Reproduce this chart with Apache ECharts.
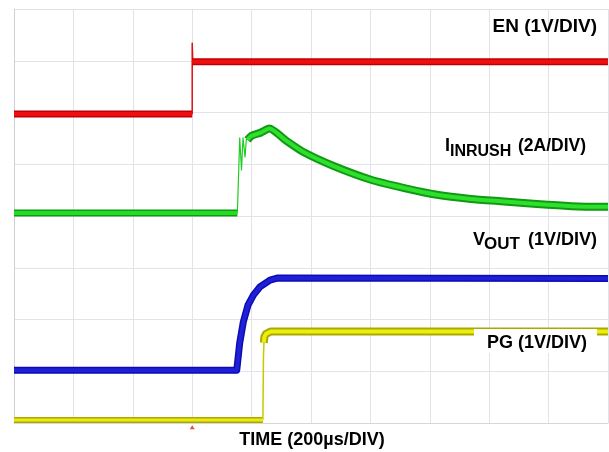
<!DOCTYPE html>
<html>
<head>
<meta charset="utf-8">
<script src="https://cdn.jsdelivr.net/npm/echarts@6/dist/echarts.min.js"></script>
<style>
html,body{margin:0;padding:0;background:#fff;}
#c{width:609px;height:452px;}
</style>
</head>
<body>
<div id="c"></div>
<script>
// Time in microseconds (200 us / div, 10 div), amplitude in screen divisions (8 div)
const xTicks = [0,200,400,600,800,1000,1200,1400,1600,1800,2000];
const enLow  = [[0,5.97],[600,5.97]];
const enEdge = [[600,5.97],[600,7.34],[602,6.98]];
const enHigh = [[600,6.98],[2000,6.98]];

const iBase   = [[0,4.06],[752,4.06]];
const iSpikes = [[752,4.06],[754,4.4],[760,5.51],[766,4.89],[771,5.51],[778,5.14],[782,5.47],[788,5.53]];
const iBand   = [[786,5.47],[800,5.55],[830,5.61],[860,5.69],[918,5.45],[976,5.23],[1074,4.97],[1202,4.70],
                 [1314,4.54],[1424,4.41],[1538,4.33],[1650,4.28],[1760,4.23],[1876,4.19],[1986,4.18],[2000,4.18]];

const vout = [[0,1.02],[750,1.02],[760,1.55],[772,1.95],[788,2.28],[806,2.47],[828,2.63],[862,2.76],[886,2.80],[2000,2.79]];

const pgLow  = [[0,0.06],[838,0.06]];
const pgEdge = [[838,0.06],[840,1.3],[842,1.62]];
const pgHigh = [[841,1.55],[843,1.66],[848,1.72],[864,1.77],[2000,1.77]];

const trigger = [[600,-0.08]];

const chart = echarts.init(document.getElementById('c'), null, {renderer:'canvas'});
function line(data, color, width, z, smooth){
  return {type:'line', data:data, showSymbol:false, symbol:'none', smooth:smooth||false,
          lineStyle:{color:color, width:width, cap:'butt', join:'round'}, z:z, silent:true, animation:false};
}
const F = 'Liberation Sans, Arial, sans-serif';
function txt(x,y,t,size,align){
  return {type:'text', x:x, y:y, z:100, style:{text:t, font:'bold '+size+'px '+F, fill:'#000',
          align:align||'left', verticalAlign:'middle'}};
}
chart.setOption({
  backgroundColor:'#fff',
  animation:false,
  grid:{left:14, right:1, top:9, bottom:29},
  xAxis:{type:'value', min:0, max:2000, interval:200,
    axisLine:{show:true, lineStyle:{color:'#d6d6dc'}}, axisTick:{show:false}, axisLabel:{show:false},
    splitLine:{show:true, lineStyle:{color:'#e2e2e8', width:1}}},
  yAxis:{type:'value', min:0, max:8, interval:1,
    axisLine:{show:true, lineStyle:{color:'#cfcfd6'}}, axisTick:{show:false}, axisLabel:{show:false},
    splitLine:{show:true, lineStyle:{color:'#e2e2e8', width:1}}},
  series:[
    line(pgLow,'#a9a900',6,2), line(pgLow,'#eaea10',3,3),
    line(pgEdge,'#c8c800',1.5,2),
    line(pgHigh,'#a9a900',8,2), line(pgHigh,'#eded10',4,3),
    line(vout,'#0c0cb0',7,4), line(vout,'#1f1fd8',4,5),
    line(iBase,'#119a11',7,6), line(iBase,'#22dd22',4,7),
    line(iSpikes,'#22cc22',1.2,6),
    line(iBand,'#119a11',8,6,0.2), line(iBand,'#2ee02e',4,7,0.2),
    line(enLow,'#c00000',7,8), line(enLow,'#ee1010',4,9),
    line(enEdge,'#dd1010',1.5,8),
    line(enHigh,'#c00000',7,8), line(enHigh,'#ee1010',4,9),
    {type:'scatter', data:trigger, symbol:'triangle', symbolSize:[5,4], itemStyle:{color:'#e02020'}, clip:false, silent:true, z:10}
  ],
  graphic:[
    txt(597,27,'EN (1V/DIV)',19,'right'),
    txt(445,146.5,'I',18), txt(450,151.5,'INRUSH',16), txt(518,146,'(2A/DIV)',17.5),
    txt(473,240,'V',18), txt(484,244.5,'OUT',17), txt(528,240,'(1V/DIV)',18),
    {type:'rect', z:99, shape:{x:474,y:329,width:123,height:24}, style:{fill:'#fff'}},
    txt(487,343,'PG (1V/DIV)',18),
    txt(312,440,'TIME (200\u00b5s/DIV)',18,'center')
  ]
});
</script>
</body>
</html>
